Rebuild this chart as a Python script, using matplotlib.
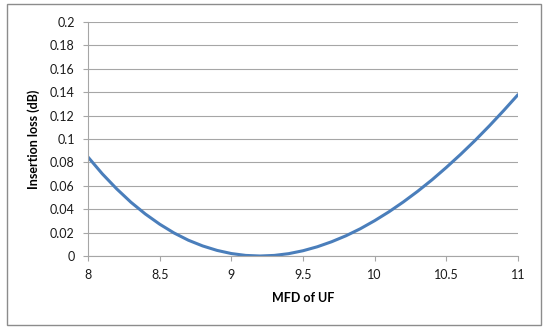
import matplotlib.pyplot as plt
from matplotlib.patches import Rectangle

# MFD of UF (um) and insertion loss (dB)
mfd = [8.0, 8.1, 8.2, 8.3, 8.4, 8.5, 8.6, 8.7, 8.8, 8.9,
       9.0, 9.1, 9.2, 9.3, 9.4, 9.5, 9.6, 9.7, 9.8, 9.9,
       10.0, 10.1, 10.2, 10.3, 10.4, 10.5, 10.6, 10.7, 10.8, 10.9, 11.0]
loss = [0.0846, 0.0702, 0.0574, 0.0459, 0.0359, 0.0272, 0.0197, 0.0135, 0.0086, 0.0048,
        0.0021, 0.0005, 0.0, 0.0005, 0.0020, 0.0045, 0.0079, 0.0122, 0.0173, 0.0233,
        0.0302, 0.0378, 0.0462, 0.0553, 0.0651, 0.0757, 0.0869, 0.0987, 0.1112, 0.1243, 0.1379]

xticks = [8, 8.5, 9, 9.5, 10, 10.5, 11]
xtick_labels = ["8", "8.5", "9", "9.5", "10", "10.5", "11"]
yticks = [0, 0.02, 0.04, 0.06, 0.08, 0.1, 0.12, 0.14, 0.16, 0.18, 0.2]
ytick_labels = ["0", "0.02", "0.04", "0.06", "0.08", "0.1", "0.12", "0.14", "0.16", "0.18", "0.2"]

plt.rcParams['font.family'] = ['Lato', 'DejaVu Sans']
grid_col = '#A6A6A6'

fig = plt.figure(figsize=(5.5, 3.32), dpi=100)
ax = fig.add_axes([88 / 550, 1 - 256 / 332, 430 / 550, 234 / 332])

ax.plot(mfd, loss, color='#4A7EBB', lw=2.2, solid_capstyle='round')

ax.set_xlim(8, 11)
ax.set_ylim(0, 0.2)
ax.set_xticks(xticks)
ax.set_xticklabels(xtick_labels)
ax.set_yticks(yticks)
ax.set_yticklabels(ytick_labels)
ax.tick_params(axis='both', length=3.6, width=0.8, color=grid_col, pad=6,
               labelsize=9, labelcolor='#1a1a1a')

ax.grid(axis='y', color=grid_col, lw=0.8)
ax.set_axisbelow(True)
for s in ['top', 'right']:
    ax.spines[s].set_visible(False)
for s in ['left', 'bottom']:
    ax.spines[s].set_color(grid_col)
    ax.spines[s].set_linewidth(0.8)

ax.set_xlabel("MFD of UF", fontsize=9, fontweight='bold', labelpad=8)
ax.set_ylabel("Insertion loss (dB)", fontsize=9, fontweight='bold', labelpad=7)

# outer chart border
fig.patches.append(Rectangle((7 / 550, 1 - 325 / 332), 534 / 550, 321 / 332,
                             transform=fig.transFigure, fill=False,
                             edgecolor='#8C8C8C', lw=1.0))

fig.savefig("out.png", dpi=100)
